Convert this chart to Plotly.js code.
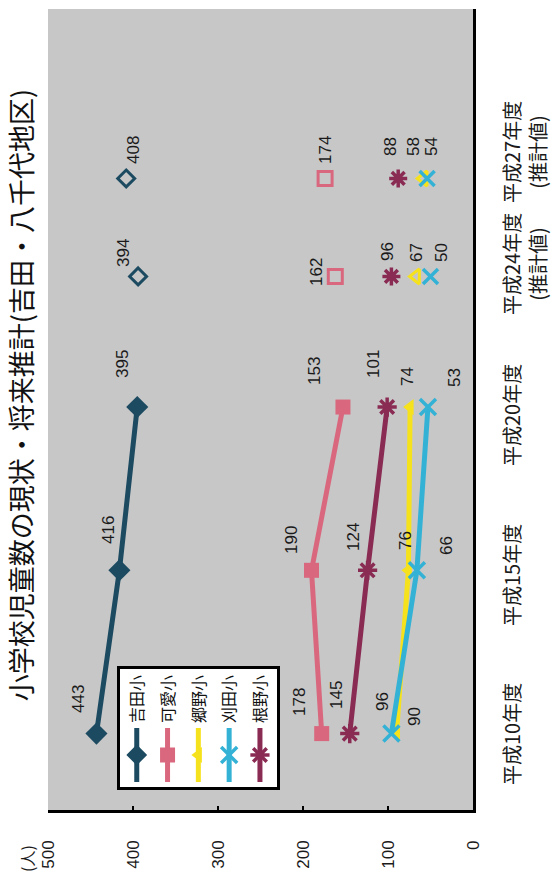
<!DOCTYPE html>
<html>
<head>
<meta charset="utf-8">
<script src="https://cdn.plot.ly/plotly-3.0.1.min.js"></script>
<style>
html,body{margin:0;padding:0;background:#fff;overflow:hidden;width:553px;height:883px;}
#wrap{position:absolute;left:0;top:0;width:883px;height:553px;transform-origin:0 0;transform:translate(0px,883px) rotate(-90deg);}
#chart{width:883px;height:553px;}
</style>
</head>
<body>
<div id="wrap"><div id="chart"></div></div>
<script>
// ---- data ----
const years = [10, 15, 20, 24, 27];
const categoryLabels = ['平成10年度', '平成15年度', '平成20年度', '平成24年度<br>(推計値)', '平成27年度<br>(推計値)'];
const schoolNames = ['吉田小', '可愛小', '郷野小', '刈田小', '根野小'];
const yoshida  = [443, 416, 395, 394, 408];
const enoshiro = [178, 190, 153, 162, 174];
const gono     = [90, 76, 74, 67, 58];
const karita   = [96, 66, 53, 50, 54];
const neno     = [145, 124, 101, 96, 88];
const actualCount = 3; // first three are actual values, the rest are projections
const yTicks = [0, 100, 200, 300, 400, 500];

// ---- styles ----
const seriesValues = [yoshida, enoshiro, gono, karita, neno];
const styles = [
  {color: '#1c4a60', sym: 'diamond',       symP: 'diamond-open',      size: 17, sizeP: 13, lw: 0,   lwP: 3},
  {color: '#d9687e', sym: 'square',        symP: 'square-open',       size: 15, sizeP: 14, lw: 0,   lwP: 3},
  {color: '#f6e21c', sym: 'triangle-up',   symP: 'triangle-up-open',  size: 14, sizeP: 13, lw: 0,   lwP: 3},
  {color: '#33b2d6', sym: 'x-thin-open',   symP: 'x-thin-open',       size: 16, sizeP: 15, lw: 3.5, lwP: 3.5},
  {color: '#8a2b53', sym: 'asterisk-open', symP: 'asterisk-open',     size: 16, sizeP: 15, lw: 3.5, lwP: 3.5}
];
// label text-centre offsets from the marker, px (right, down)
const labelShift = [
  [[35,-18],[40,-11],[43,-15],[23,-15],[28,7]],
  [[32,-22],[30,-20],[36,-28],[4,-19],[28,0]],
  [[17,18],[30,-3],[31,-3],[24,0],[32,-10]],
  [[32,-9],[25,30],[30,27],[24,11],[32,4]],
  [[39,-13],[33,-14],[43,-14],[25,-4],[32,-8]]
];
const catShift = [0, -5, -8, 12, 26];

const traces = [];
seriesValues.forEach((vals, i) => {
  const st = styles[i];
  traces.push({
    type: 'scatter', mode: 'lines+markers', name: schoolNames[i], legendgroup: 'g' + i,
    x: years.slice(0, actualCount), y: vals.slice(0, actualCount),
    line: {color: st.color, width: 5},
    marker: {symbol: st.sym, size: st.size, color: st.color, line: {color: st.color, width: st.lw}},
    cliponaxis: false
  });
  traces.push({
    type: 'scatter', mode: 'markers', name: schoolNames[i] + '(推計値)', legendgroup: 'g' + i, showlegend: false,
    x: years.slice(actualCount), y: vals.slice(actualCount),
    marker: {symbol: st.symP, size: st.sizeP, color: st.color, line: {color: st.color, width: st.lwP}},
    cliponaxis: false
  });
});

const annotations = [];
seriesValues.forEach((vals, i) => {
  vals.forEach((v, j) => {
    annotations.push({
      x: years[j], y: v, xref: 'x', yref: 'y', text: String(v), showarrow: false,
      xanchor: 'center', yanchor: 'middle',
      xshift: labelShift[i][j][0], yshift: -labelShift[i][j][1],
      font: {family: 'Liberation Sans, Arial, sans-serif', size: 17, color: '#1a1a1a'}
    });
  });
});
years.forEach((yr, j) => {
  annotations.push({
    x: yr, xref: 'x', y: 0, yref: 'paper', yanchor: 'top', xanchor: 'center', yshift: -22, xshift: catShift[j],
    text: categoryLabels[j], showarrow: false, align: 'center',
    font: {family: 'Noto Sans CJK JP, sans-serif', size: 20, color: '#1a1a1a'}
  });
});
annotations.push({
  x: -0.06, y: 1.049, xref: 'paper', yref: 'paper', xanchor: 'center', yanchor: 'middle',
  text: '(人)', showarrow: false,
  font: {family: 'Noto Sans CJK JP, sans-serif', size: 16, color: '#1a1a1a'}
});

const layout = {
  width: 883, height: 553,
  margin: {l: 73, r: 9, t: 48, b: 80},
  paper_bgcolor: '#ffffff',
  plot_bgcolor: '#c7c7c7',
  showlegend: true,
  title: {
    text: '小学校児童数の現状・将来推計(吉田・八千代地区)',
    x: 488 / 883, xref: 'container', xanchor: 'center',
    y: 1 - 23 / 553, yref: 'container', yanchor: 'middle',
    font: {family: 'Noto Sans CJK JP, sans-serif', size: 27, color: '#111'}
  },
  xaxis: {
    range: [7.66, 32.19], showgrid: false, zeroline: false,
    showline: true, linecolor: '#000', linewidth: 3,
    showticklabels: false, ticks: ''
  },
  yaxis: {
    range: [0, 500], tickvals: yTicks, showgrid: false, zeroline: false,
    showline: true, linecolor: '#000', linewidth: 3,
    ticks: 'inside', ticklen: 4, tickwidth: 2, tickcolor: '#000',
    ticklabelstandoff: 24,
    tickfont: {family: 'Liberation Sans, Arial, sans-serif', size: 17, color: '#1a1a1a'}
  },
  legend: {
    x: 0.025, y: 0.838, xanchor: 'left', yanchor: 'top',
    bgcolor: '#ffffff', bordercolor: '#000', borderwidth: 3,
    traceorder: 'grouped', tracegroupgap: 7, itemwidth: 54,
    font: {family: 'Noto Sans CJK JP, sans-serif', size: 16, color: '#111'}
  },
  annotations: annotations
};

Plotly.newPlot('chart', traces, layout, {staticPlot: true, displayModeBar: false});
</script>
</body>
</html>
